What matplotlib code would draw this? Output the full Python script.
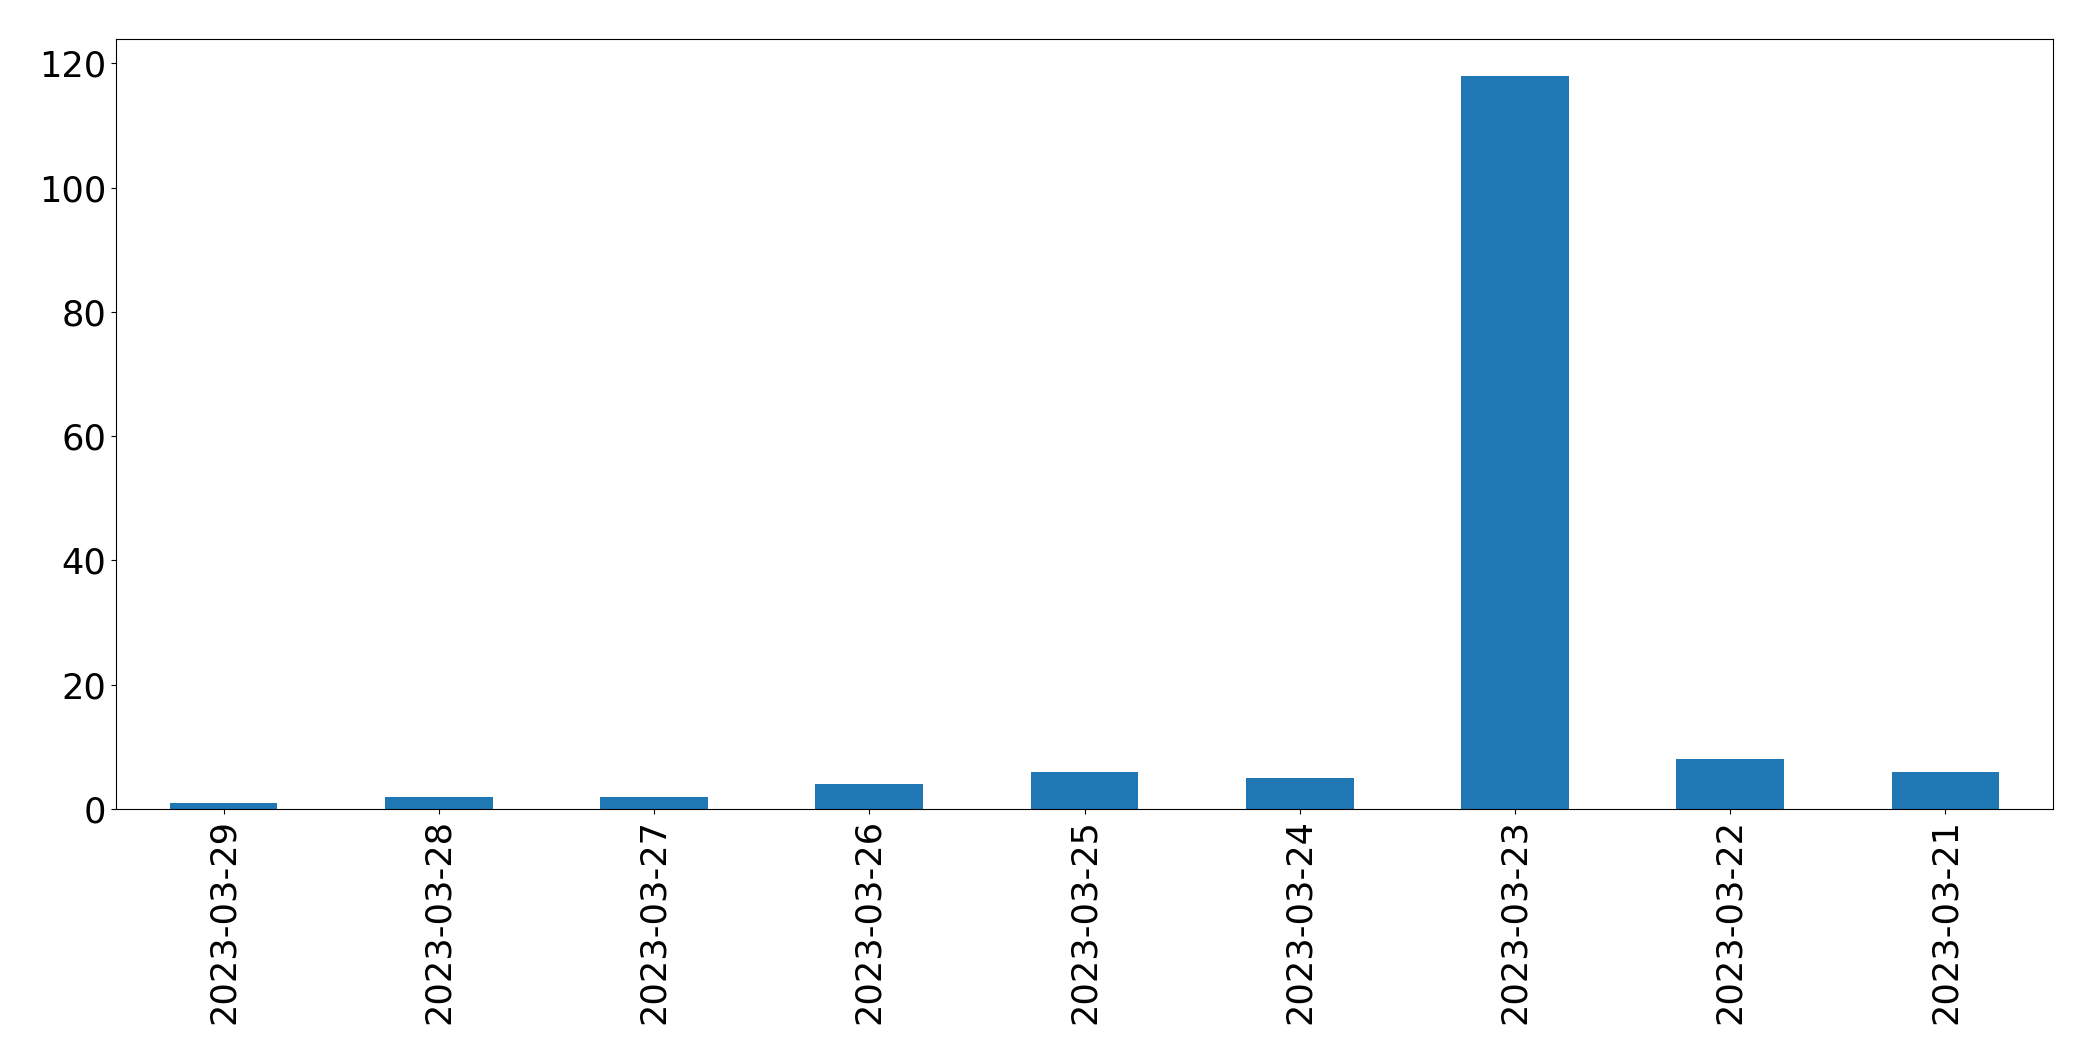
import matplotlib
matplotlib.use("Agg")
import matplotlib.pyplot as plt

dates = [
    "2023-03-29", "2023-03-28", "2023-03-27", "2023-03-26", "2023-03-25",
    "2023-03-24", "2023-03-23", "2023-03-22", "2023-03-21",
]
counts = [1, 2, 2, 4, 6, 5, 118, 8, 6]

fig, ax = plt.subplots(figsize=(20.93, 10.61), dpi=100)
fig.subplots_adjust(left=116 / 2093, right=2053 / 2093, top=1 - 39 / 1061, bottom=1 - 809 / 1061)

x = range(len(dates))
ax.bar(x, counts, width=0.5, color="#1f77b4")
ax.set_xlim(-0.5, len(dates) - 0.5)
ax.set_xticks(list(x))
ax.set_xticklabels(dates, rotation=90)
ax.tick_params(axis="both", labelsize=25.3)

fig.savefig("out.png", dpi=100)
